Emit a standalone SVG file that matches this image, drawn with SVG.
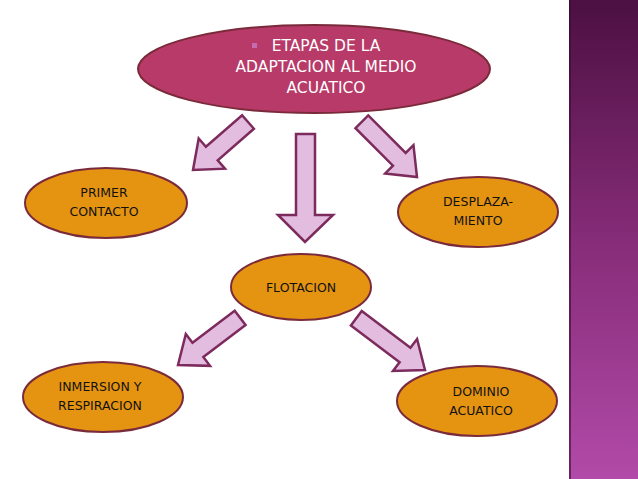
<svg xmlns="http://www.w3.org/2000/svg" width="638" height="479" viewBox="0 0 638 479">
<defs>
<linearGradient id="bar" x1="0" y1="0" x2="0" y2="1">
<stop offset="0" stop-color="#4c1042"/><stop offset="0.5" stop-color="#862c78"/><stop offset="1" stop-color="#b14aa8"/>
</linearGradient>
<path id="arr" d="M0,-9 H-25 V-20 L0,0 Z"/>
</defs>
<style>
.n{fill:#e59412;stroke:#7a2a3a;stroke-width:2}
.t{font-family:"DejaVu Sans",sans-serif;font-size:12.5px;fill:#111;text-anchor:middle}
.a{fill:#e2bde0;stroke:#7d2a5c;stroke-width:2.5;stroke-linejoin:miter}
</style>
<rect width="638" height="479" fill="#fff"/>
<rect x="569" y="0" width="69" height="479" fill="url(#bar)"/>
<rect x="569" y="0" width="2" height="479" fill="#3a0a30" opacity="0.6"/>
<g id="connectors">
<path class="a" transform="translate(248,122) rotate(138.9)" d="M0,-9 H-48 V-20 L0,0 Z" style="display:none"/>
<path class="a" transform="translate(193,170) rotate(138.9)" d="M-73,-9 H-25 V-20 L0,0 L-25,20 V9 H-73 Z"/>
<path class="a" transform="translate(417,177) rotate(45)" d="M-78,-9 H-25 V-20 L0,0 L-25,20 V9 H-78 Z"/>
<path class="a" d="M296,134 H315 V215 H333 L305,242 L278,215 H296 Z"/>
<path class="a" transform="translate(178,365) rotate(142.8)" d="M-78,-9 H-25 V-20 L0,0 L-25,20 V9 H-78 Z"/>
<path class="a" transform="translate(425,370) rotate(37)" d="M-86,-9 H-25 V-20 L0,0 L-25,20 V9 H-86 Z"/>
</g>
<g id="top">
<ellipse cx="314" cy="69" rx="176" ry="44" fill="#b83a68" stroke="#7a2a3a" stroke-width="2"/>
<rect x="252" y="43" width="5" height="5" fill="#c86ab0"/>
<text font-family="DejaVu Sans,sans-serif" font-size="15.5" fill="#fff" text-anchor="middle"><tspan x="326" y="51">ETAPAS DE LA</tspan><tspan x="326" y="72">ADAPTACION AL MEDIO</tspan><tspan x="326" y="93">ACUATICO</tspan></text>
</g>
<g id="primer"><ellipse class="n" cx="106" cy="203" rx="81" ry="35"/><text class="t"><tspan x="104" y="197">PRIMER</tspan><tspan x="104" y="216">CONTACTO</tspan></text></g>
<g id="desplaza"><ellipse class="n" cx="478" cy="212" rx="80" ry="35"/><text class="t"><tspan x="478" y="206">DESPLAZA-</tspan><tspan x="478" y="225">MIENTO</tspan></text></g>
<g id="flotacion"><ellipse class="n" cx="301" cy="287" rx="70" ry="33"/><text class="t" x="301" y="292">FLOTACION</text></g>
<g id="inmersion"><ellipse class="n" cx="103" cy="397" rx="80" ry="35"/><text class="t"><tspan x="100" y="391">INMERSION Y</tspan><tspan x="100" y="410">RESPIRACION</tspan></text></g>
<g id="dominio"><ellipse class="n" cx="477" cy="401" rx="80" ry="35"/><text class="t"><tspan x="481" y="396">DOMINIO</tspan><tspan x="481" y="415">ACUATICO</tspan></text></g>
</svg>
